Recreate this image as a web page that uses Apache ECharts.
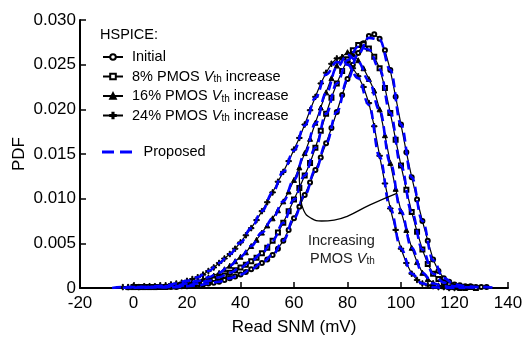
<!DOCTYPE html>
<html>
<head>
<meta charset="utf-8">
<script src="https://cdn.jsdelivr.net/npm/echarts@6/dist/echarts.min.js"></script>
<style>
  html, body { margin: 0; padding: 0; background: #fff; }
  #chart { width: 522px; height: 340px; }
</style>
</head>
<body>
<div id="chart"></div>
<script>
// Read SNM grid (mV) for the HSPICE Monte Carlo histograms
const snm = [-6, -4, -2, 0, 2, 4, 6, 8, 10, 12, 14, 16, 18, 20, 22, 24, 26, 28, 30, 32,
  34, 36, 38, 40, 42, 44, 46, 48, 50, 52, 54, 56, 58, 60, 62, 64, 66, 68, 70, 72,
  74, 76, 78, 80, 82, 84, 86, 88, 90, 92, 94, 96, 98, 100, 102, 104, 106, 108, 110, 112,
  114, 116, 118, 120, 122, 124, 126, 128, 130, 132];

// HSPICE PDFs
const hspiceInitial = [null, null, null, null, 0.0001, 0.0001, 0.0001, 0.0001, 0.0001, 0.0001,
  0.0001, 0.0001, 0.0002, 0.0002, 0.0003, 0.0003, 0.0004, 0.0005, 0.0006, 0.0007,
  0.0009, 0.0011, 0.0013, 0.0015, 0.0018, 0.0021, 0.0024, 0.0028, 0.0032, 0.0037,
  0.0044, 0.0053, 0.0065, 0.0078, 0.0091, 0.0104, 0.0118, 0.0132, 0.0146, 0.0162,
  0.0179, 0.0197, 0.0216, 0.0234, 0.0250, 0.0263, 0.0274, 0.0282, 0.0284, 0.0279,
  0.0266, 0.0244, 0.0214, 0.0183, 0.0152, 0.0124, 0.0099, 0.0075, 0.0053, 0.0032,
  0.0019, 0.0011, 0.0007, 0.0004, 0.0003, 0.0002, 0.0002, 0.0001, 0.0001, 0.0001];

const hspice8 = [null, null, null, 0.0001, 0.0001, 0.0001, 0.0001, 0.0001, 0.0001, 0.0001,
  0.0002, 0.0002, 0.0003, 0.0003, 0.0004, 0.0005, 0.0006, 0.0008, 0.0010, 0.0012,
  0.0014, 0.0017, 0.0020, 0.0023, 0.0026, 0.0030, 0.0034, 0.0039, 0.0045, 0.0053,
  0.0062, 0.0073, 0.0086, 0.0099, 0.0112, 0.0126, 0.0140, 0.0157, 0.0176, 0.0195,
  0.0213, 0.0229, 0.0243, 0.0256, 0.0266, 0.0272, 0.0273, 0.0268, 0.0259, 0.0246,
  0.0224, 0.0196, 0.0166, 0.0137, 0.0110, 0.0085, 0.0063, 0.0043, 0.0027, 0.0016,
  0.0010, 0.0006, 0.0004, 0.0002, 0.0001, 0.0001, 0.0001, 0.0000, null, null];

const hspice16 = [null, null, 0.0001, 0.0001, 0.0001, 0.0001, 0.0001, 0.0001, 0.0002, 0.0002,
  0.0003, 0.0003, 0.0004, 0.0005, 0.0006, 0.0008, 0.0010, 0.0012, 0.0014, 0.0017,
  0.0021, 0.0025, 0.0030, 0.0035, 0.0040, 0.0047, 0.0054, 0.0062, 0.0070, 0.0078,
  0.0087, 0.0097, 0.0108, 0.0121, 0.0135, 0.0151, 0.0167, 0.0185, 0.0202, 0.0219,
  0.0235, 0.0249, 0.0259, 0.0264, 0.0262, 0.0255, 0.0246, 0.0234, 0.0221, 0.0200,
  0.0171, 0.0140, 0.0111, 0.0086, 0.0065, 0.0045, 0.0029, 0.0017, 0.0010, 0.0006,
  0.0003, 0.0002, 0.0001, 0.0001, 0.0000, 0.0000, null, null, null, null];

const hspice24 = [null, 0.0001, 0.0001, 0.0002, 0.0001, 0.0002, 0.0002, 0.0002, 0.0003, 0.0003,
  0.0004, 0.0005, 0.0006, 0.0008, 0.0010, 0.0012, 0.0015, 0.0019, 0.0023, 0.0028,
  0.0033, 0.0038, 0.0044, 0.0051, 0.0059, 0.0067, 0.0076, 0.0086, 0.0096, 0.0107,
  0.0119, 0.0130, 0.0142, 0.0155, 0.0168, 0.0183, 0.0199, 0.0214, 0.0229, 0.0241,
  0.0251, 0.0257, 0.0258, 0.0253, 0.0246, 0.0237, 0.0225, 0.0207, 0.0181, 0.0148,
  0.0117, 0.0089, 0.0065, 0.0044, 0.0028, 0.0016, 0.0009, 0.0005, 0.0003, 0.0002,
  0.0001, 0.0001, 0.0000, 0.0000, null, null, null, null, null, null];

// Read SNM grid (mV) for the proposed model curves
const snmModel = [-8, -4, 0, 4, 8, 12, 16, 20, 24, 28, 32, 36, 40, 44, 48, 52, 56, 60, 64,
  68, 72, 76, 80, 84, 88, 92, 96, 100, 104, 108, 112, 116, 120, 124, 128, 132, 136];

const modelInitial = [null, null, null, 0.0000, 0.0001, 0.0001, 0.0001, 0.0002, 0.0003, 0.0005,
  0.0007, 0.0011, 0.0015, 0.0021, 0.0028, 0.0037, 0.0053, 0.0078, 0.0104, 0.0132,
  0.0162, 0.0197, 0.0233, 0.0262, 0.0280, 0.0278, 0.0244, 0.0183, 0.0124, 0.0075,
  0.0031, 0.0011, 0.0004, 0.0002, 0.0001, 0.0001, 0.0000];

const model8 = [null, null, 0.0000, 0.0001, 0.0001, 0.0001, 0.0002, 0.0003, 0.0005, 0.0008,
  0.0012, 0.0017, 0.0023, 0.0030, 0.0039, 0.0053, 0.0073, 0.0099, 0.0126, 0.0157,
  0.0195, 0.0229, 0.0255, 0.0270, 0.0267, 0.0245, 0.0196, 0.0137, 0.0085, 0.0043,
  0.0016, 0.0006, 0.0002, 0.0001, 0.0000, null, null];

const model16 = [null, 0.0000, 0.0001, 0.0001, 0.0001, 0.0002, 0.0003, 0.0005, 0.0008, 0.0012,
  0.0017, 0.0025, 0.0035, 0.0047, 0.0062, 0.0078, 0.0097, 0.0121, 0.0150, 0.0184,
  0.0218, 0.0247, 0.0261, 0.0253, 0.0232, 0.0199, 0.0140, 0.0086, 0.0045, 0.0017,
  0.0005, 0.0002, 0.0000, 0.0000, null, null, null];

const model24 = [0.0000, 0.0001, 0.0001, 0.0001, 0.0002, 0.0003, 0.0005, 0.0008, 0.0012, 0.0019,
  0.0028, 0.0038, 0.0051, 0.0067, 0.0086, 0.0107, 0.0130, 0.0154, 0.0182, 0.0213,
  0.0239, 0.0253, 0.0250, 0.0235, 0.0205, 0.0147, 0.0089, 0.0044, 0.0016, 0.0005,
  0.0001, 0.0000, 0.0000, null, null, null, null];

// Callout path (mV, PDF) pointing across the family of curves
const calloutSnm = [61.9, 62.4, 63.6, 66.5, 70.3, 75.0, 79.7, 88.4, 98.4];
const calloutPdf = [0.0135, 0.0105, 0.0087, 0.0078, 0.0075, 0.0076, 0.0080, 0.0093, 0.0106];

const xTicks = [-20, 0, 20, 40, 60, 80, 100, 120, 140];
const yTicks = [0, 0.005, 0.010, 0.015, 0.020, 0.025, 0.030];

const seriesNames = ['Initial', '8% PMOS Vth increase', '16% PMOS Vth increase', '24% PMOS Vth increase'];

const FONT = 'Liberation Sans, Arial, sans-serif';
const pairs = (xs, ys) => xs.map((x, i) => [x, ys[i]]);
const plusPath = 'path://M4,0H6V4H10V6H6V10H4V6H0V4H4Z';
const dashIcon = 'path://M0,0H12V3H0Z M18,0H30V3H18Z';

const hspiceSets = [
  { name: seriesNames[0], data: hspiceInitial, symbol: 'emptyCircle', size: 4 },
  { name: seriesNames[1], data: hspice8, symbol: 'emptyRect', size: 4 },
  { name: seriesNames[2], data: hspice16, symbol: 'triangle', size: 5 },
  { name: seriesNames[3], data: hspice24, symbol: plusPath, size: 5.5 }
];
const modelSets = [modelInitial, model8, model16, model24];

const series = [];
hspiceSets.forEach(s => {
  series.push({
    type: 'line', name: s.name, data: pairs(snm, s.data),
    symbol: s.symbol, symbolSize: s.size, showAllSymbol: true,
    lineStyle: { color: '#000', width: 1.2 },
    itemStyle: { color: '#000', borderColor: '#000', borderWidth: 1 },
    z: 2
  });
});
modelSets.forEach(d => {
  series.push({
    type: 'line', name: 'Proposed', data: pairs(snmModel, d),
    smooth: 0.4, smoothMonotone: 'x', showSymbol: false, symbol: 'none',
    lineStyle: { color: '#0000ff', width: 2.6, type: [9, 5] },
    itemStyle: { color: '#0000ff' },
    z: 3
  });
});
series.push({
  type: 'line', name: 'callout', data: pairs(calloutSnm, calloutPdf),
  smooth: 0.5, showSymbol: false, symbol: 'none', silent: true,
  lineStyle: { color: '#000', width: 1.3 }, z: 4
});

const richLegend = {
  i: { fontStyle: 'italic', fontSize: 14.5, fontFamily: FONT, color: '#000' },
  s: { fontSize: 10, fontFamily: FONT, color: '#000', padding: [6, 0, 0, 0] }
};

const chart = echarts.init(document.getElementById('chart'), null, { renderer: 'canvas' });
chart.setOption({
  animation: false,
  backgroundColor: '#fff',
  grid: { left: 80, right: 14, top: 20, bottom: 52, containLabel: false, outerBoundsMode: 'none' },
  title: {
    text: 'HSPICE:', left: 95, top: 22,
    textStyle: { fontFamily: FONT, fontSize: 14.5, fontWeight: 'normal', color: '#000' }
  },
  legend: [
    {
      data: seriesNames, orient: 'vertical', left: 102, top: 48, padding: 0,
      itemWidth: 20, itemHeight: 7, itemGap: 1.5,
      formatter: n => n.replace('Vth', '{i|V}{s|th}'),
      textStyle: { fontFamily: FONT, fontSize: 14.5, color: '#000', lineHeight: 18, padding: [0, 0, 0, 4], rich: richLegend },
      selectedMode: false
    },
    {
      data: [{ name: 'Proposed', icon: dashIcon }], orient: 'vertical', left: 102, top: 143, padding: 0,
      itemWidth: 31, itemHeight: 3,
      textStyle: { fontFamily: FONT, fontSize: 14.5, color: '#000', lineHeight: 18, padding: [0, 0, 0, 6] },
      selectedMode: false
    }
  ],
  xAxis: {
    type: 'value', min: xTicks[0], max: xTicks[xTicks.length - 1], interval: 20,
    name: 'Read SNM (mV)', nameLocation: 'middle', nameGap: 31,
    nameTextStyle: { fontFamily: FONT, fontSize: 17, color: '#000' },
    axisLine: { show: true, onZero: false, lineStyle: { color: '#000', width: 2 } },
    axisTick: { show: true, inside: true, length: 6, lineStyle: { color: '#000', width: 1.5 } },
    axisLabel: { fontFamily: FONT, fontSize: 17, color: '#000', margin: 7 },
    splitLine: { show: false }
  },
  yAxis: {
    type: 'value', min: yTicks[0], max: yTicks[yTicks.length - 1], interval: 0.005,
    name: 'PDF', nameLocation: 'middle', nameGap: 52, nameMoveOverlap: false,
    nameTextStyle: { fontFamily: FONT, fontSize: 17, color: '#000' },
    axisLine: { show: true, onZero: false, lineStyle: { color: '#000', width: 2 } },
    axisTick: { show: true, inside: true, length: 6, lineStyle: { color: '#000', width: 1.5 } },
    axisLabel: {
      fontFamily: FONT, fontSize: 17, color: '#000', margin: 4,
      formatter: v => (v === 0 ? '0' : v.toFixed(3))
    },
    splitLine: { show: false }
  },
  graphic: [
    {
      type: 'text', left: 308, top: 233,
      style: { text: 'Increasing', fontFamily: FONT, fontSize: 14.5, fill: '#222' }
    },
    {
      type: 'text', left: 310, top: 251,
      style: {
        text: 'PMOS {i|V}{s|th}', fontFamily: FONT, fontSize: 14.5, fill: '#222',
        rich: {
          i: { fontStyle: 'italic', fontSize: 14.5, fontFamily: FONT, fill: '#222' },
          s: { fontSize: 10, fontFamily: FONT, fill: '#222', padding: [6, 0, 0, 0] }
        }
      }
    }
  ],
  series: series
});
</script>
</body>
</html>
